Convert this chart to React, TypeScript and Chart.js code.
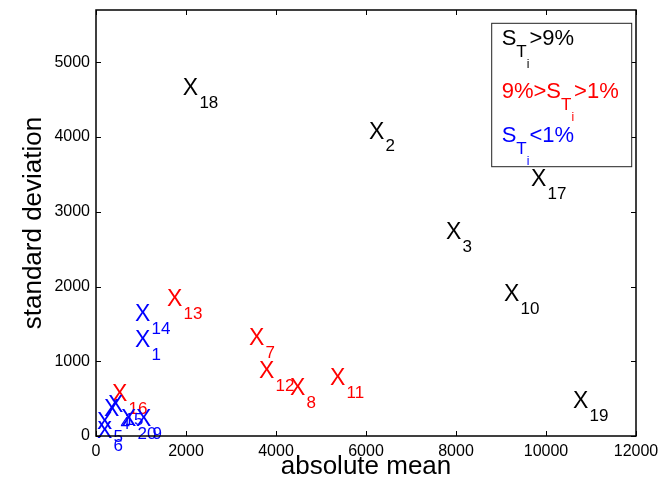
import React, { useEffect, useRef } from 'react';
import { Chart, registerables } from 'chart.js';

Chart.register(...registerables);

const FONT = "'Liberation Sans', Arial, Helvetica, sans-serif";

// variable index (subscript), absolute mean (x), standard deviation (y), sensitivity group
const variableIds = ['1', '2', '3', '4', '5', '6', '7', '8', '9', '10', '11', '12', '13', '14', '15', '16', '17', '18', '19', '20'];
const absoluteMean = [867, 6067, 7778, 178, 22, 22, 3400, 4311, 889, 9067, 5200, 3622, 1578, 867, 267, 356, 9667, 1930, 10600, 556];
const standardDeviation = [1298, 4087, 2743, 375, 201, 80, 1325, 656, 241, 1913, 789, 883, 1846, 1646, 428, 575, 3452, 4670, 482, 241];
const sensitivityGroup = [2, 0, 0, 2, 2, 2, 1, 1, 2, 0, 1, 1, 1, 2, 2, 1, 0, 0, 0, 2];
const groupColors = ['#000000', '#ff0000', '#0000ff'];

const xTickValues = [0, 2000, 4000, 6000, 8000, 10000, 12000];
const yTickValues = [0, 1000, 2000, 3000, 4000, 5000];
const xTitle = 'absolute mean';
const yTitle = 'standard deviation';

// legend lines: [text, level] (0 normal, 1 subscript, 2 sub-subscript)
const legendLines: [string, number][][] = [
  [['S', 0], ['T', 1], ['i', 2], ['>9%', 0]],
  [['9%>S', 0], ['T', 1], ['i', 2], ['>1%', 0]],
  [['S', 0], ['T', 1], ['i', 2], ['<1%', 0]],
];

const labelPlugin = {
  id: 'xLabels',
  afterDatasetsDraw(chart: any) {
    const ctx = chart.ctx;
    ctx.save();
    ctx.textBaseline = 'alphabetic';
    ctx.textAlign = 'left';
    chart.data.datasets.forEach((ds: any, di: number) => {
      const meta = chart.getDatasetMeta(di);
      meta.data.forEach((el: any, j: number) => {
        const sub = ds.subs[j];
        ctx.fillStyle = ds.textColor;
        ctx.font = `23px ${FONT}`;
        const base = el.y + 8.2;
        ctx.fillText('X', el.x, base);
        const w = ctx.measureText('X').width;
        ctx.font = `17px ${FONT}`;
        ctx.fillText(sub, el.x + w + 1.2, base + 12.5);
      });
    });
    ctx.restore();
  },
};

const framePlugin = {
  id: 'frame',
  afterDraw(chart: any) {
    const ctx = chart.ctx;
    const { left, right, top, bottom } = chart.chartArea;
    const xs = chart.scales.x;
    const ys = chart.scales.y;
    ctx.save();
    ctx.strokeStyle = '#000';
    ctx.lineWidth = 1.5;
    ctx.strokeRect(left, top, right - left, bottom - top);
    ctx.lineWidth = 1;
    const tl = 5;
    ctx.beginPath();
    xTickValues.forEach((v) => {
      const px = Math.round(xs.getPixelForValue(v)) + 0.5;
      ctx.moveTo(px, bottom);
      ctx.lineTo(px, bottom - tl);
      ctx.moveTo(px, top);
      ctx.lineTo(px, top + tl);
    });
    yTickValues.forEach((v) => {
      const py = Math.round(ys.getPixelForValue(v)) + 0.5;
      ctx.moveTo(left, py);
      ctx.lineTo(left + tl, py);
      ctx.moveTo(right, py);
      ctx.lineTo(right - tl, py);
    });
    ctx.stroke();

    // legend box
    const bRight = right - 4.3;
    const bTop = top + 13.3;
    const bW = 140;
    const bH = 143.4;
    const bLeft = bRight - bW;
    ctx.fillStyle = '#fff';
    ctx.fillRect(bLeft, bTop, bW, bH);
    ctx.strokeStyle = '#222';
    ctx.lineWidth = 1;
    ctx.strokeRect(bLeft, bTop, bW, bH);
    const baselines = [bTop + 21.7, bTop + 75, bTop + 118.4];
    const sizes = [22, 17, 12];
    const offsets = [0, 12, 23];
    ctx.textBaseline = 'alphabetic';
    ctx.textAlign = 'left';
    legendLines.forEach((line, li) => {
      ctx.fillStyle = groupColors[li];
      let x = bLeft + 10;
      line.forEach(([t, lvl]) => {
        ctx.font = `${sizes[lvl]}px ${FONT}`;
        ctx.fillText(t, x, baselines[li] + offsets[lvl]);
        x += ctx.measureText(t).width;
      });
    });
    ctx.restore();
  },
};

export default function App() {
  const ref = useRef<HTMLCanvasElement | null>(null);
  useEffect(() => {
    document.body.style.margin = '0';
    const canvas = ref.current;
    if (!canvas) return;
    const datasets = groupColors.map((color, g) => {
      const idx = variableIds.map((_, i) => i).filter((i) => sensitivityGroup[i] === g);
      return {
        label: `group ${g}`,
        data: idx.map((i) => ({ x: absoluteMean[i], y: standardDeviation[i] })),
        subs: idx.map((i) => variableIds[i]),
        textColor: color,
        pointRadius: 0,
        pointHoverRadius: 0,
        showLine: false,
      };
    });
    const chart = new Chart(canvas, {
      type: 'scatter',
      data: { datasets: datasets as any },
      options: {
        responsive: false,
        animation: false,
        devicePixelRatio: 1,
        layout: { padding: { top: 10, right: 30, left: 0, bottom: 0 } },
        plugins: { legend: { display: false }, tooltip: { enabled: false } },
        scales: {
          x: {
            type: 'linear',
            min: 0,
            max: 12000,
            grid: { display: false, drawTicks: false },
            border: { display: false },
            afterBuildTicks: (s: any) => {
              s.ticks = xTickValues.map((v) => ({ value: v }));
            },
            afterFit: (s: any) => {
              s.height = 51;
              s.paddingLeft = 0;
              s.paddingRight = 0;
            },
            ticks: {
              color: '#000',
              font: { family: FONT, size: 16 },
              padding: 6,
              maxRotation: 0,
              callback: (v: any) => String(v),
            },
            title: {
              display: true,
              text: xTitle,
              color: '#000',
              font: { family: FONT, size: 26, lineHeight: 1 },
              padding: { top: 0, bottom: 7 },
            },
          },
          y: {
            type: 'linear',
            min: 0,
            max: 5700,
            grid: { display: false, drawTicks: false },
            border: { display: false },
            afterBuildTicks: (s: any) => {
              s.ticks = yTickValues.map((v) => ({ value: v }));
            },
            afterFit: (s: any) => {
              s.width = 96;
              s.paddingTop = 0;
              s.paddingBottom = 0;
            },
            ticks: {
              color: '#000',
              font: { family: FONT, size: 16 },
              padding: 6,
              callback: (v: any) => String(v),
            },
            title: {
              display: true,
              text: yTitle,
              color: '#000',
              font: { family: FONT, size: 26, lineHeight: 1 },
              padding: { top: 21, bottom: 0 },
            },
          },
        },
      },
      plugins: [labelPlugin, framePlugin],
    });
    return () => chart.destroy();
  }, []);
  return <canvas ref={ref} width={666} height={487} style={{ display: 'block' }} />;
}
